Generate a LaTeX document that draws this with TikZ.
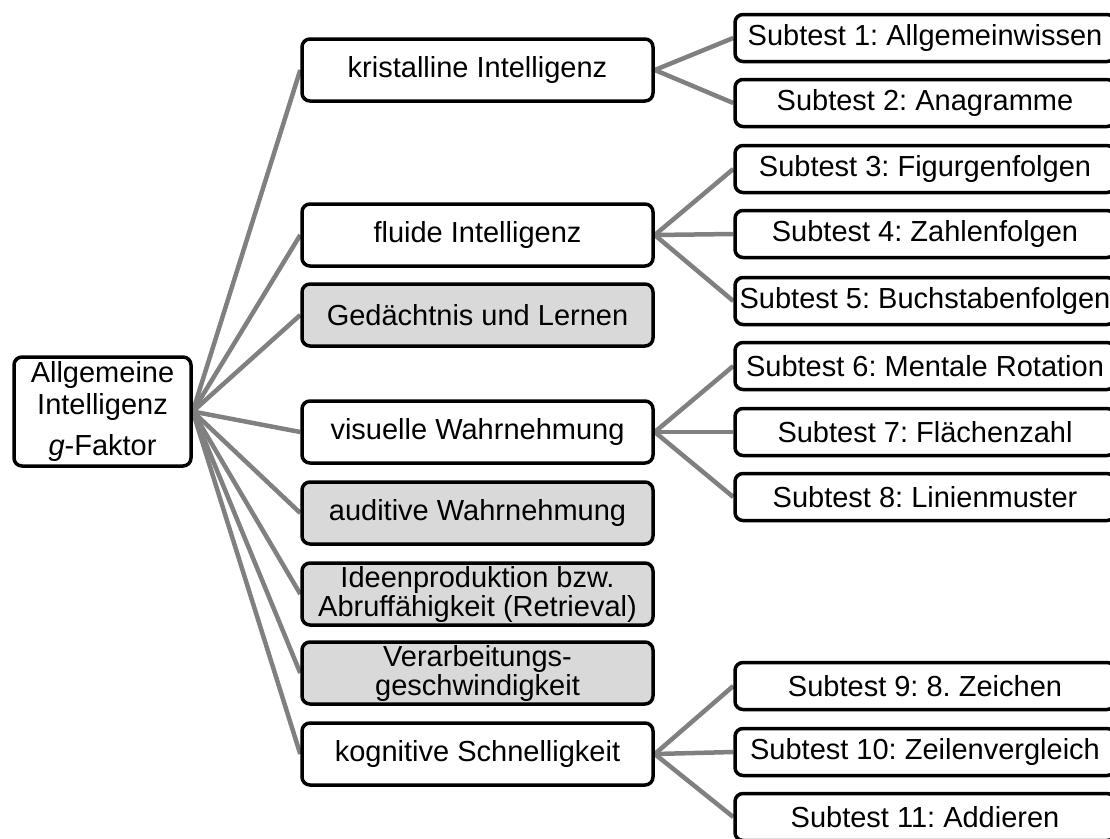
\documentclass[tikz,border=0pt]{standalone}
\usepackage{fontspec}
\setmainfont{Liberation Sans}
\usetikzlibrary{backgrounds}
\definecolor{edgegray}{HTML}{808080}
\definecolor{boxgray}{HTML}{D9D9D9}
\frenchspacing
\begin{document}
\begin{tikzpicture}[x=1pt,y=-1pt,
  every node/.style={font=\fontsize{29pt}{29pt}\selectfont},
  box/.style={draw=black, line width=3.5pt, rounded corners=8pt, fill=white,
    align=center, inner sep=0pt},
  rootbox/.style={box, minimum width=177pt, minimum height=109pt,
    font=\fontsize{29pt}{32pt}\selectfont},
  midbox/.style={box, minimum width=351pt, minimum height=62pt},
  subbox/.style={box, minimum width=380pt, minimum height=47pt},
  shaded/.style={fill=boxgray},
  link/.style={draw=edgegray, line width=4.5pt}]
\useasboundingbox (0,0) rectangle (1110,838);
\begin{scope}
\clip (0,0) rectangle (1110,838);
% general factor
\node[rootbox] (g) at (102.5,411.5) {Allgemeine\\Intelligenz\\[9pt]\textit{g}-Faktor};
% broad abilities
\node[midbox] (kri) at (477.5,70)  {kristalline Intelligenz};
\node[midbox] (flu) at (477.5,235) {fluide Intelligenz};
\node[midbox,shaded] (ged) at (477.5,315) {Gedächtnis und Lernen};
\node[midbox] (vis) at (477.5,432) {visuelle Wahrnehmung};
\node[midbox,shaded] (aud) at (477.5,513) {auditive Wahrnehmung};
\node[midbox,shaded] (ide) at (477.5,594) {Ideenproduktion bzw.\\Abruffähigkeit (Retrieval)};
\node[midbox,shaded] (ver) at (477.5,673) {Verarbeitungs-\\geschwindigkeit};
\node[midbox] (kog) at (477.5,754) {kognitive Schnelligkeit};
% subtests
\node[subbox] (s1)  at (925,38)  {Subtest 1: Allgemeinwissen};
\node[subbox] (s2)  at (925,103) {Subtest 2: Anagramme};
\node[subbox] (s3)  at (925,169) {Subtest 3: Figurgenfolgen};
\node[subbox] (s4)  at (925,234) {Subtest 4: Zahlenfolgen};
\node[subbox] (s5)  at (925,301) {Subtest 5: Buchstabenfolgen};
\node[subbox] (s6)  at (925,366) {Subtest 6: Mentale Rotation};
\node[subbox] (s7)  at (925,432) {Subtest 7: Flächenzahl};
\node[subbox] (s8)  at (925,497) {Subtest 8: Linienmuster};
\node[subbox] (s9)  at (925,686) {Subtest 9: 8. Zeichen};
\node[subbox] (s10) at (925,752) {Subtest 10: Zeilenvergleich};
\node[subbox] (s11) at (925,817) {Subtest 11: Addieren};
\end{scope}
% connectors behind the boxes
\begin{scope}[on background layer]
\foreach \m in {kri,flu,ged,vis,aud,ide,ver,kog}
  \draw[link] (g.east) -- (\m.west);
\foreach \s in {s1,s2} \draw[link] (kri.east) -- (\s.west);
\foreach \s in {s3,s4,s5} \draw[link] (flu.east) -- (\s.west);
\foreach \s in {s6,s7,s8} \draw[link] (vis.east) -- (\s.west);
\foreach \s in {s9,s10,s11} \draw[link] (kog.east) -- (\s.west);
\end{scope}
\end{tikzpicture}
\end{document}
